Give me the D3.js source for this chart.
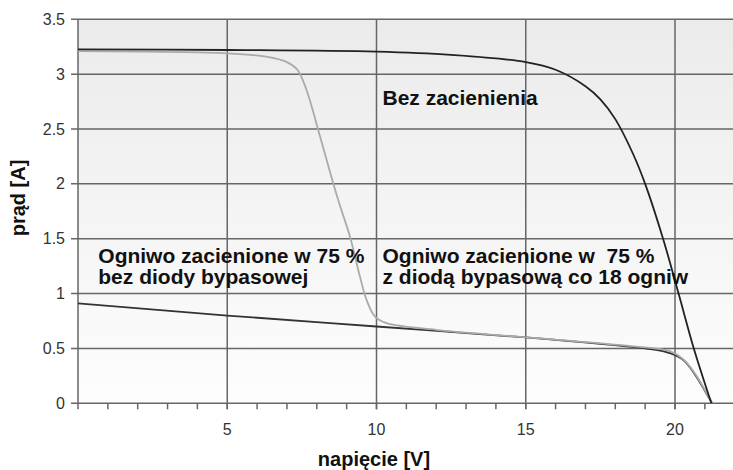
<!DOCTYPE html>
<html>
<head>
<meta charset="utf-8">
<script src="https://cdn.jsdelivr.net/npm/d3@7"></script>
<style>
  body { margin: 0; background: #fff; }
  svg { display: block; font-family: "Liberation Sans", Arial, sans-serif; }
</style>
</head>
<body>
<svg id="chart" width="733" height="470"></svg>
<script>
// napięcie [V] -> prąd [A]
const noShadeV = [0, 5, 10, 12.5, 15, 16, 17, 17.5, 18, 18.6, 19, 19.6, 20.12, 20.63, 21.22];
const noShadeI = [3.225, 3.22, 3.205, 3.175, 3.11, 3.04, 2.89, 2.77, 2.59, 2.27, 2.0, 1.5, 1.0, 0.5, 0];

const bypassV = [0, 5, 6.3, 7, 7.35, 7.65, 8.1, 8.4, 8.72, 9.11, 9.45, 9.67, 9.95, 10.34, 12, 14.14, 15.8, 19.16, 19.83, 20.28, 20.72, 21.06, 21.25];
const bypassI = [3.21, 3.19, 3.16, 3.11, 3.04, 2.86, 2.44, 2.15, 1.85, 1.52, 1.15, 0.94, 0.79, 0.73, 0.67, 0.62, 0.585, 0.505, 0.475, 0.40, 0.25, 0.09, 0];

const noDiodeV = [0, 5, 10, 15, 19, 19.5, 19.9, 20.3, 20.7, 21.05, 21.25];
const noDiodeI = [0.91, 0.80, 0.70, 0.60, 0.50, 0.48, 0.45, 0.39, 0.25, 0.09, 0];

const yTicks = [0, 0.5, 1, 1.5, 2, 2.5, 3, 3.5];
const xTickLabels = [5, 10, 15, 20];
const xMinorTicks = d3.range(1, 22);

const svg = d3.select('#chart'),
  plotLeft = 78, plotTop = 19.3, plotBottom = 403.3;

const x = d3.scaleLinear().domain([0, 22]).range([plotLeft, plotLeft + 22 * 29.85]);
const y = d3.scaleLinear().domain([0, 3.5]).range([plotBottom, plotTop]);

// tło z gradientem
const grad = svg.append('defs').append('linearGradient')
  .attr('id', 'bg').attr('x1', 0).attr('y1', 0).attr('x2', 0).attr('y2', 1);
grad.append('stop').attr('offset', '0%').attr('stop-color', '#ebebeb');
grad.append('stop').attr('offset', '100%').attr('stop-color', '#fdfdfd');

svg.append('rect')
  .attr('x', x(0)).attr('y', y(3.5))
  .attr('width', x(22) - x(0)).attr('height', y(0) - y(3.5))
  .attr('fill', 'url(#bg)');

// siatka
svg.append('g')
  .selectAll('line')
  .data(yTicks)
  .enter().append('line')
  .attr('x1', x(0) - 7).attr('x2', x(22))
  .attr('y1', d => y(d)).attr('y2', d => y(d))
  .attr('stroke', '#666').attr('stroke-width', 1.5);

svg.append('g')
  .selectAll('line')
  .data([0].concat(xTickLabels))
  .enter().append('line')
  .attr('x1', d => x(d)).attr('x2', d => x(d))
  .attr('y1', y(3.5)).attr('y2', y(0) + 6)
  .attr('stroke', '#666').attr('stroke-width', 1.5);

// małe znaczniki osi X
svg.append('g')
  .selectAll('line')
  .data(xMinorTicks)
  .enter().append('line')
  .attr('x1', d => x(d)).attr('x2', d => x(d))
  .attr('y1', y(0)).attr('y2', y(0) + 6)
  .attr('stroke', '#666').attr('stroke-width', 1.5);

// etykiety osi
svg.append('g')
  .selectAll('text')
  .data(yTicks)
  .enter().append('text')
  .attr('x', 65).attr('y', d => y(d))
  .attr('dy', '0.35em')
  .attr('text-anchor', 'end')
  .attr('font-size', 16)
  .attr('fill', '#333')
  .text(d => String(d));

svg.append('g')
  .selectAll('text')
  .data(xTickLabels)
  .enter().append('text')
  .attr('x', d => x(d)).attr('y', 435)
  .attr('text-anchor', 'middle')
  .attr('font-size', 16)
  .attr('fill', '#333')
  .text(d => String(d));

svg.append('text')
  .attr('x', 374).attr('y', 466)
  .attr('text-anchor', 'middle')
  .attr('font-size', 20).attr('font-weight', 'bold')
  .attr('fill', '#111')
  .text('napięcie [V]');

svg.append('text')
  .attr('transform', 'translate(25,198) rotate(-90)')
  .attr('text-anchor', 'middle')
  .attr('font-size', 20).attr('font-weight', 'bold')
  .attr('fill', '#111')
  .text('prąd [A]');

// krzywe
const line = d3.line()
  .x(d => x(d[0]))
  .y(d => y(d[1]))
  .curve(d3.curveCatmullRom.alpha(0.5));

const series = [
  { v: noDiodeV, i: noDiodeI, color: '#333', width: 1.8 },
  { v: bypassV, i: bypassI, color: '#aaa', width: 1.8 },
  { v: noShadeV, i: noShadeI, color: '#222', width: 1.8 }
];

svg.append('g')
  .selectAll('path')
  .data(series)
  .enter().append('path')
  .attr('d', s => line(d3.zip(s.v, s.i)))
  .attr('fill', 'none')
  .attr('stroke', s => s.color)
  .attr('stroke-width', s => s.width);

// opisy
const notes = [
  { v: 10.2, i: 2.72, lines: ['Bez zacienienia'] },
  { v: 0.68, i: 1.279, lines: ['Ogniwo zacienione w 75 %', 'bez diody bypasowej'] },
  { v: 10.2, i: 1.279, lines: ['Ogniwo zacienione w \u00a075 %', 'z diodą bypasową co 18 ogniw'] }
];

const note = svg.append('g')
  .selectAll('text')
  .data(notes)
  .enter().append('text')
  .attr('x', d => x(d.v)).attr('y', d => y(d.i))
  .attr('font-size', 21).attr('font-weight', 'bold')
  .attr('fill', '#111');

note.selectAll('tspan')
  .data(d => d.lines.map(t => ({ t: t, v: d.v })))
  .enter().append('tspan')
  .attr('x', d => x(d.v))
  .attr('dy', (d, k) => k === 0 ? 0 : 21)
  .text(d => d.t);
</script>
</body>
</html>
